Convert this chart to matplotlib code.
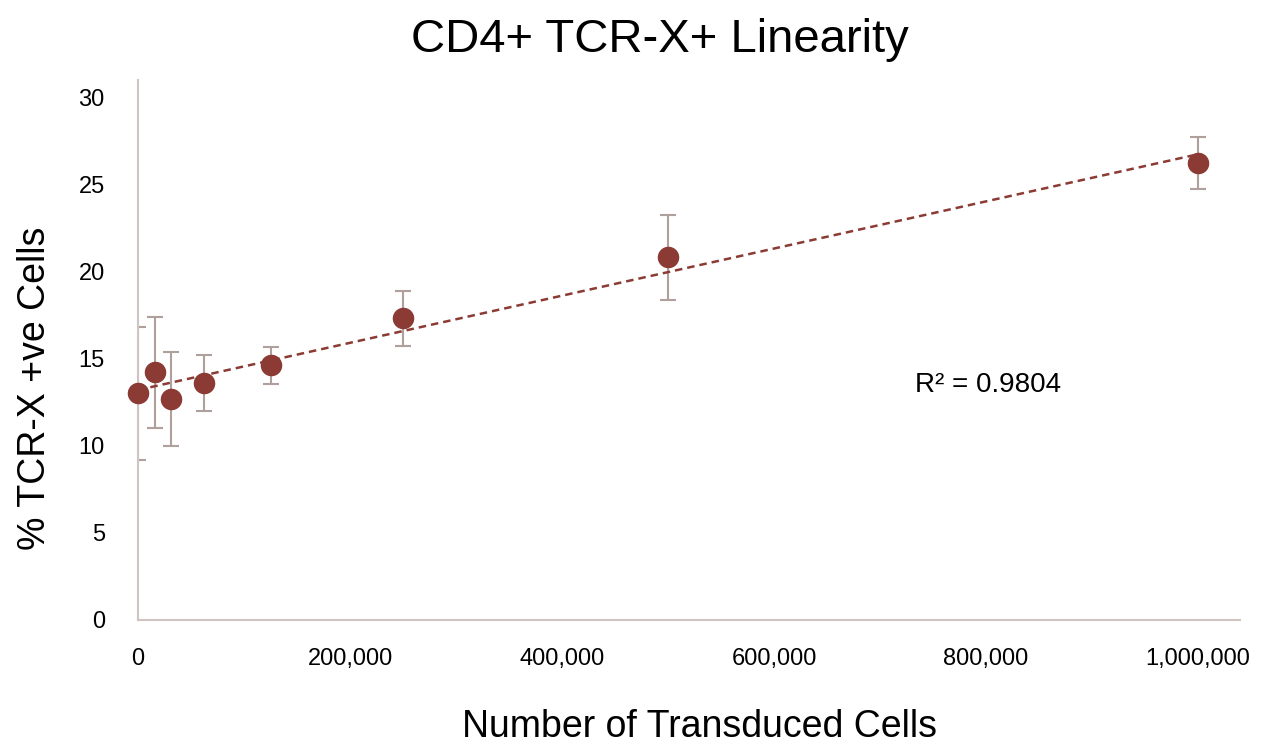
import matplotlib.pyplot as plt
import numpy as np
from matplotlib.ticker import FuncFormatter

plt.rcParams['font.family'] = ['Liberation Sans', 'DejaVu Sans']

# data
cells = [0, 15625, 31250, 62500, 125000, 250000, 500000, 1000000]
pct_pos = [13.0, 14.2, 12.7, 13.6, 14.6, 17.3, 20.8, 26.2]
pct_err = [3.8, 3.2, 2.7, 1.6, 1.05, 1.6, 2.45, 1.5]
r2_label = "R\u00b2 = 0.9804"

dot_col = "#8c3a34"
err_col = "#b0a09c"

fig = plt.figure(figsize=(12.67, 7.45), dpi=100)
ax = fig.add_axes([0.109, 0.168, 0.870, 0.725])

ax.errorbar(cells, pct_pos, yerr=pct_err, fmt='none', ecolor=err_col,
            elinewidth=1.5, capsize=6, capthick=1.5, zorder=2)
ax.scatter(cells, pct_pos, s=210, color=dot_col, zorder=3, clip_on=False)

# linear trendline
m, b = np.polyfit(cells, pct_pos, 1)
xs = np.array([min(cells), max(cells)])
ax.plot(xs, m * xs + b, '--', color=dot_col, lw=1.8, dashes=(3, 2), zorder=2.5)

ax.text(733000, 13.5, r2_label, fontsize=20, va='center', ha='left')

ax.set_xlim(0, 1040000)
ax.set_ylim(0, 31)
ax.set_yticks(range(0, 31, 5))
ax.set_xticks(range(0, 1000001, 200000))
ax.xaxis.set_major_formatter(FuncFormatter(lambda v, p: f"{int(v):,}"))

for s in ['top', 'right']:
    ax.spines[s].set_visible(False)
for s in ['left', 'bottom']:
    ax.spines[s].set_color('#cfc4c0')
    ax.spines[s].set_linewidth(1.5)
ax.tick_params(length=0, labelsize=17)
ax.tick_params(axis='x', pad=20)
ax.tick_params(axis='y', pad=24)

fig.text(660 / 1267, 1 - 40 / 745, "CD4+ TCR-X+ Linearity", fontsize=34,
         ha='center', va='center')
fig.text(700 / 1267, 1 - 727 / 745, "Number of Transduced Cells", fontsize=27,
         ha='center', va='center')
fig.text(35 / 1267, 1 - 388 / 745, "% TCR-X +ve Cells", fontsize=27,
         ha='center', va='center', rotation=90)

fig.savefig("out.png", dpi=100, facecolor='white')
